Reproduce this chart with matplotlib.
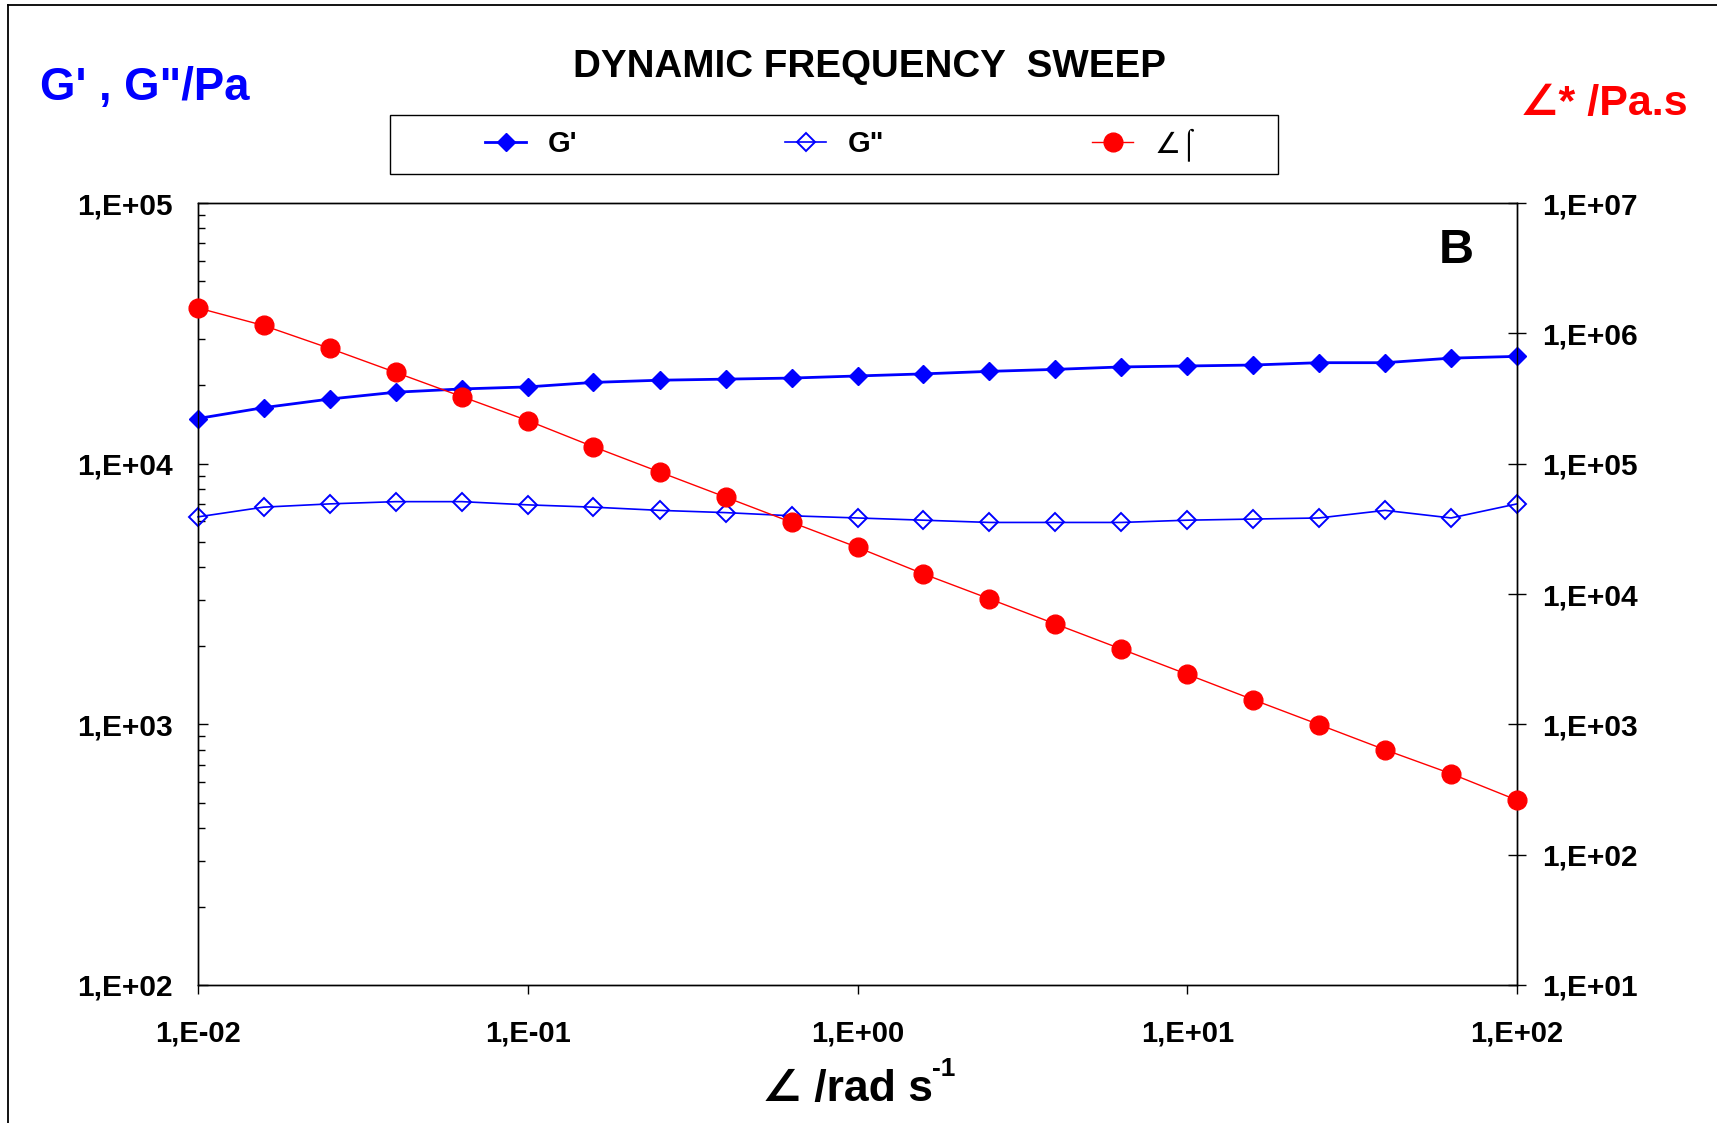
import numpy as np
import matplotlib
matplotlib.use('Agg')
import matplotlib.pyplot as plt
from matplotlib.lines import Line2D
from matplotlib.patches import Rectangle
from matplotlib.ticker import FixedLocator, FixedFormatter, NullLocator, LogLocator
from matplotlib.font_manager import FontProperties

plt.rcParams['font.family'] = ['Liberation Sans', 'DejaVu Sans']
plt.rcParams['font.weight'] = 'bold'

# angular frequency /rad s-1
freq = [0.01, 0.0158, 0.0251, 0.0398, 0.0631, 0.1, 0.158, 0.251, 0.398, 0.631,
        1.0, 1.58, 2.51, 3.98, 6.31, 10.0, 15.8, 25.1, 39.8, 63.1, 100.0]
# storage modulus G' /Pa
g1 = [14900, 16400, 17700, 18800, 19350, 19700, 20500, 20900, 21100, 21300,
      21700, 22100, 22600, 23000, 23500, 23700, 23900, 24400, 24400, 25400, 25800]
# loss modulus G'' /Pa
g2 = [6250, 6810, 7010, 7150, 7150, 6950, 6810, 6620, 6490, 6310,
      6190, 6070, 5950, 5950, 5950, 6070, 6130, 6190, 6620, 6190, 7010]
# complex viscosity /Pa.s
eta = [1.566e6, 1.149e6, 7.66e5, 5.01e5, 3.27e5, 2.14e5, 1.35e5, 8.63e4, 5.54e4, 3.55e4,
       2.28e4, 1.43e4, 9.19e3, 5.89e3, 3.78e3, 2.42e3, 1.55e3, 995, 638, 418, 262]

xticks = [1e-2, 1e-1, 1e0, 1e1, 1e2]
xticklabels = ['1,E-02', '1,E-01', '1,E+00', '1,E+01', '1,E+02']
yticks = [1e2, 1e3, 1e4, 1e5]
yticklabels = ['1,E+02', '1,E+03', '1,E+04', '1,E+05']
y2ticks = [1e1, 1e2, 1e3, 1e4, 1e5, 1e6, 1e7]
y2ticklabels = ['1,E+01', '1,E+02', '1,E+03', '1,E+04', '1,E+05', '1,E+06', '1,E+07']

W, H = 1717, 1123
fig = plt.figure(figsize=(W / 100, H / 100), dpi=100)
ax = fig.add_axes([198 / W, 1 - 985 / H, (1517 - 198) / W, (985 - 203) / H])

l1, = ax.plot(freq, g1, color='#0000FF', lw=2, marker='D', ms=9.5,
              mfc='#0000FF', mec='#0000FF', clip_on=False, zorder=3)
l2, = ax.plot(freq, g2, color='#0000FF', lw=1.2, marker='D', ms=9.5,
              mfc='none', mec='#0000FF', mew=1.4, clip_on=False, zorder=3)
ax.set_xscale('log')
ax.set_yscale('log')
ax.set_xlim(1e-2, 1e2)
ax.set_ylim(1e2, 1e5)

ax2 = ax.twinx()
l3, = ax2.plot(freq, eta, color='#FF0000', lw=1, marker='o', ms=13.5,
               mfc='#FF0000', mec='#FF0000', clip_on=False, zorder=3)
ax2.set_yscale('log')
ax2.set_ylim(1e1, 1e7)

ax.xaxis.set_major_locator(FixedLocator(xticks))
ax.xaxis.set_major_formatter(FixedFormatter(xticklabels))
ax.xaxis.set_minor_locator(NullLocator())
ax.yaxis.set_major_locator(FixedLocator(yticks))
ax.yaxis.set_major_formatter(FixedFormatter(yticklabels))
ax.yaxis.set_minor_locator(LogLocator(base=10, subs=np.arange(2, 10)))
ax2.yaxis.set_major_locator(FixedLocator(y2ticks))
ax2.yaxis.set_major_formatter(FixedFormatter(y2ticklabels))
ax2.yaxis.set_minor_locator(NullLocator())

ax.tick_params(axis='x', which='major', direction='out', length=6.5, width=1,
               pad=18.5, labelsize=21, top=False)
ax.tick_params(axis='y', which='major', direction='in', length=7, width=1,
               pad=18, labelsize=21.5, right=False)
ax.tick_params(axis='y', which='minor', direction='in', length=5, width=1, right=False)
ax2.tick_params(axis='y', which='major', direction='inout', length=13.5, width=1,
                pad=11, labelsize=21.5)
for a in (ax, ax2):
    for s in a.spines.values():
        s.set_linewidth(1)
for lab in ax.get_xticklabels() + ax.get_yticklabels() + ax2.get_yticklabels():
    lab.set_fontweight('bold')

# texts
fig.text(869.5 / W, 1 - 77 / H, 'DYNAMIC FREQUENCY  SWEEP', ha='center', va='baseline',
         fontsize=27.7, fontweight='bold', color='black')
fig.text(40 / W, 1 - 100 / H, 'G\' , G"/Pa', ha='left', va='baseline',
         fontsize=32.8, fontweight='bold', color='#0000FF')
fig.text(1520 / W, 1 - 115 / H, '∠* /Pa.s', ha='left', va='baseline',
         fontsize=31, fontweight='bold', color='#FF0000')
fig.text(762 / W, 1 - 1101 / H, '∠ /rad s', ha='left', va='baseline',
         fontsize=32, fontweight='bold', color='black')
fig.text(932 / W, 1 - 1076 / H, '-1', ha='left', va='baseline',
         fontsize=19, fontweight='bold', color='black')
fig.text(1439 / W, 1 - 263 / H, 'B', ha='left', va='baseline',
         fontsize=35, fontweight='bold', color='black')

# legend box
fig.add_artist(Rectangle((390 / W, 1 - 174 / H), (1278 - 390) / W, 59 / H,
                         transform=fig.transFigure, facecolor='white',
                         edgecolor='black', lw=1))
prop = FontProperties(family=['Liberation Sans', 'DejaVu Sans'], weight='bold', size=21)
leg = fig.legend([l1, l2, l3], ["G'", 'G"', '∠⌠'], loc='center',
                 bbox_to_anchor=(842 / W, 1 - 144.5 / H), ncol=3, frameon=False,
                 prop=prop, handlelength=1.4, handletextpad=0.75, columnspacing=7.12,
                 markerscale=1.0)
leg.get_texts()[2].set_fontweight('normal')

# outer frame (left and top only visible)
fig.add_artist(Line2D([8 / W, 8 / W], [0, 1 - 5 / H], transform=fig.transFigure,
                      color='black', lw=1.3))
fig.add_artist(Line2D([8 / W, 1], [1 - 5 / H, 1 - 5 / H], transform=fig.transFigure,
                      color='black', lw=1.3))

fig.savefig('out.png', dpi=100)
